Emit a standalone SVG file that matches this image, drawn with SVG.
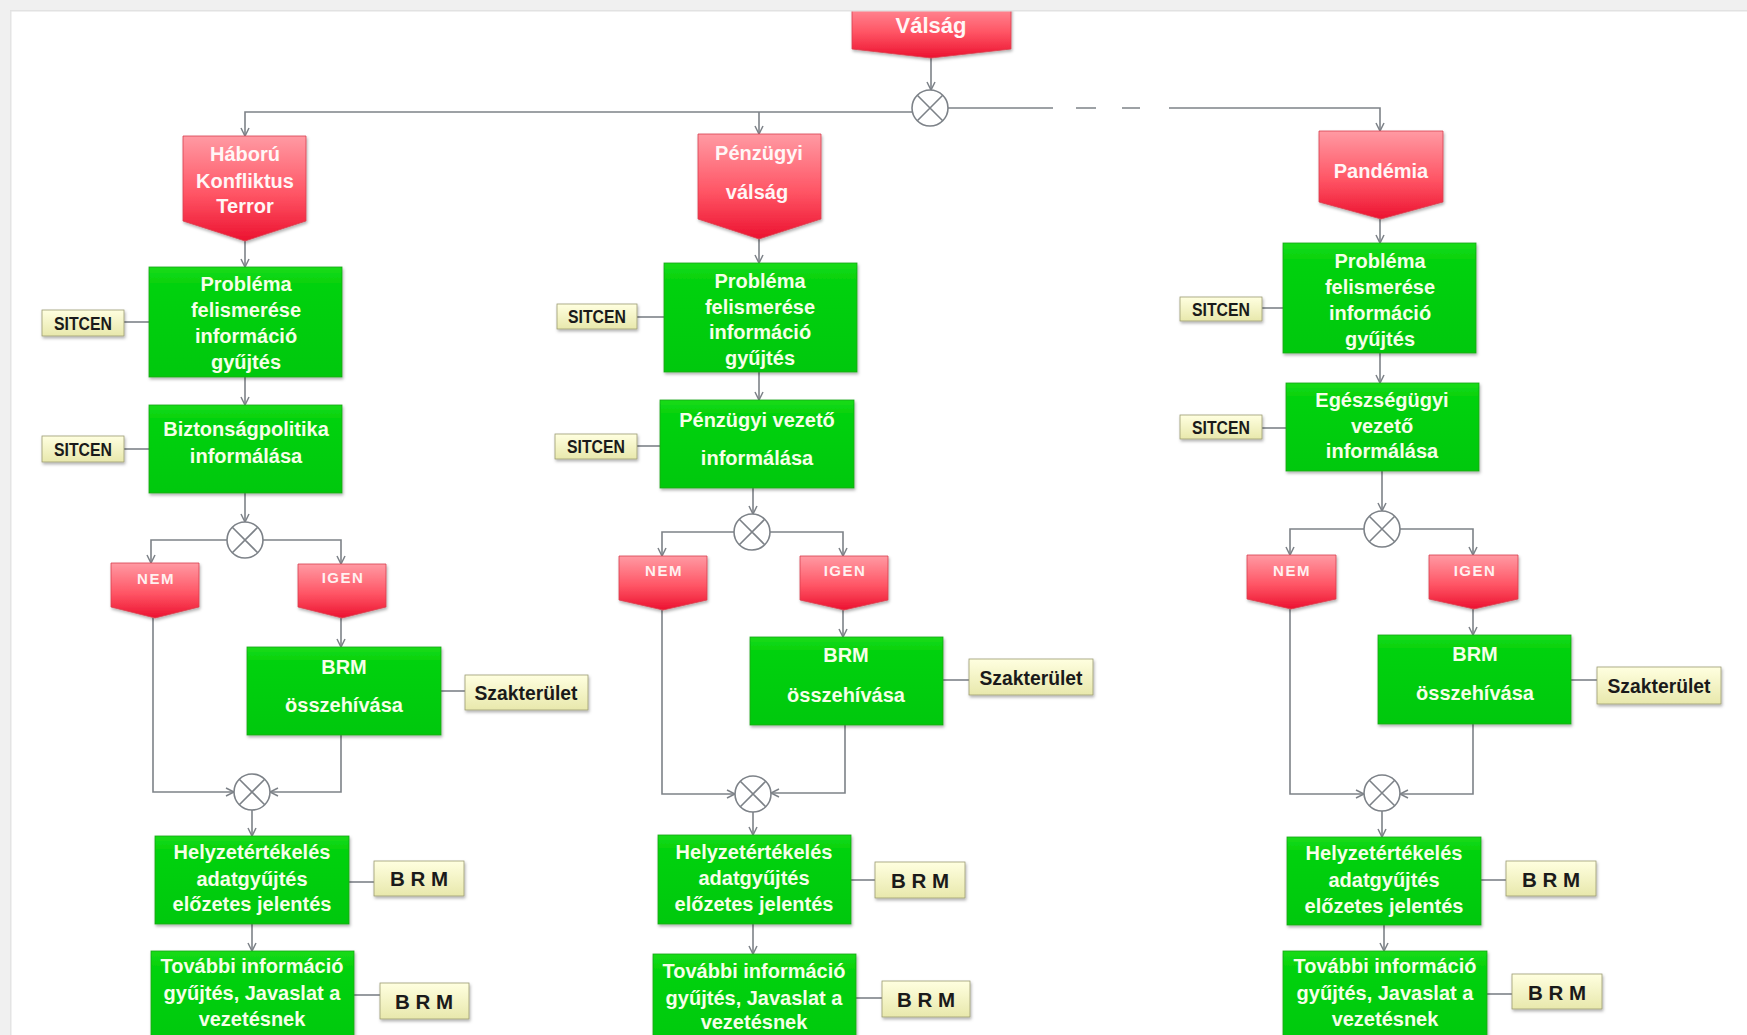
<svg xmlns="http://www.w3.org/2000/svg" width="1747" height="1035" viewBox="0 0 1747 1035">
<style>
.red{fill:url(#gRed);stroke:#d8404e;stroke-width:0.8;filter:url(#sh)}
.grn{fill:url(#gGrn);stroke:#12a512;stroke-width:0.8;filter:url(#sh)}
.lbl{fill:url(#gYel);stroke:#9c9c72;stroke-width:0.8;filter:url(#sh)}
.con{fill:none;stroke:#7d8288;stroke-width:1.6}
.arr{fill:none;stroke:#7d8288;stroke-width:1.6;marker-end:url(#ah)}
.gate{fill:#fff;stroke:#7d8288;stroke-width:1.6}
.tw{font-family:"Liberation Sans",Arial,sans-serif;font-weight:bold;font-size:20px;fill:#f6ffe8;text-anchor:middle}
.tr{font-family:"Liberation Sans",Arial,sans-serif;font-weight:bold;font-size:20px;fill:#fff6f6;text-anchor:middle}
.tyn{font-family:"Liberation Sans",Arial,sans-serif;font-weight:bold;font-size:15px;fill:#fff0f0;text-anchor:middle;letter-spacing:1.5px}
.ts{font-family:"Liberation Sans",Arial,sans-serif;font-weight:bold;font-size:17.5px;fill:#1a1a1a;text-anchor:middle}
.tk{font-family:"Liberation Sans",Arial,sans-serif;font-weight:bold;font-size:20.5px;fill:#1a1a1a;text-anchor:middle}
.tb{font-family:"Liberation Sans",Arial,sans-serif;font-weight:bold;font-size:20.5px;fill:#1a1a1a;text-anchor:middle}
</style>
<defs>
<linearGradient id="gRed" x1="0" y1="0" x2="0" y2="1">
<stop offset="0" stop-color="#ff9aa3"/><stop offset="0.55" stop-color="#ff5565"/><stop offset="1" stop-color="#ec1230"/>
</linearGradient>
<linearGradient id="gGrn" x1="0" y1="0" x2="0" y2="1">
<stop offset="0" stop-color="#18dc18"/><stop offset="0.15" stop-color="#06d20e"/><stop offset="1" stop-color="#00c808"/>
</linearGradient>
<linearGradient id="gYel" x1="0" y1="0" x2="0" y2="1">
<stop offset="0" stop-color="#ffffe0"/><stop offset="1" stop-color="#e8e8ac"/>
</linearGradient>
<filter id="sh" x="-10%" y="-10%" width="130%" height="140%">
<feDropShadow dx="1" dy="2" stdDeviation="1.5" flood-color="#000" flood-opacity="0.3"/>
</filter>
<marker id="ah" markerWidth="12" markerHeight="12" refX="9" refY="5" orient="auto" markerUnits="userSpaceOnUse">
<path d="M1,1 L9,5 L1,9" fill="none" stroke="#7d8288" stroke-width="1.5"/>
</marker>
</defs>
<rect x="0" y="0" width="1747" height="1035" fill="#fff"/>

<g id="connectors">
<path class="arr" d="M931,58 V90"/>
<path class="arr" d="M912,112 H245 V136"/>
<path class="arr" d="M759,112 V134"/>
<path class="con" d="M948,108 H1053 M1076,108 H1096 M1122,108 H1140"/>
<path class="arr" d="M1169,108 H1380 V131"/>
<path class="arr" d="M245,241 V267"/>
<path class="con" d="M124,322 H149"/>
<path class="arr" d="M245,377 V405"/>
<path class="con" d="M124,449 H149"/>
<path class="arr" d="M245,493 V522"/>
<path class="arr" d="M227,540 H151 V563"/>
<path class="arr" d="M263,540 H341 V564"/>
<path class="arr" d="M341,618 V647"/>
<path class="con" d="M441,691 H465"/>
<path class="arr" d="M153,618 V792 H234"/>
<path class="arr" d="M341,735 V792 H270"/>
<path class="arr" d="M252,810 V836"/>
<path class="con" d="M349,882 H374"/>
<path class="arr" d="M252,924 V951"/>
<path class="con" d="M354,995 H380"/>
<path class="arr" d="M759,239 V263"/>
<path class="con" d="M637,317 H664"/>
<path class="arr" d="M759,372 V400"/>
<path class="con" d="M637,446 H660"/>
<path class="arr" d="M753,488 V514"/>
<path class="arr" d="M734,532 H662 V556"/>
<path class="arr" d="M770,532 H843 V556"/>
<path class="arr" d="M843,610 V637"/>
<path class="con" d="M943,680 H969"/>
<path class="arr" d="M662,610 V794 H735"/>
<path class="arr" d="M845,725 V793 H771"/>
<path class="arr" d="M753,812 V835"/>
<path class="con" d="M851,880 H875"/>
<path class="arr" d="M753,924 V954"/>
<path class="con" d="M856,998 H882"/>
<path class="arr" d="M1380,219 V243"/>
<path class="con" d="M1262,308 H1283"/>
<path class="arr" d="M1380,353 V383"/>
<path class="con" d="M1262,428 H1286"/>
<path class="arr" d="M1382,471 V511"/>
<path class="arr" d="M1364,529 H1290 V555"/>
<path class="arr" d="M1400,529 H1473 V555"/>
<path class="arr" d="M1473,609 V635"/>
<path class="con" d="M1571,680 H1597"/>
<path class="arr" d="M1290,609 V794 H1364"/>
<path class="arr" d="M1473,724 V794 H1400"/>
<path class="arr" d="M1382,811 V837"/>
<path class="con" d="M1481,880 H1506"/>
<path class="arr" d="M1384,925 V951"/>
<path class="con" d="M1487,994 H1512"/>
</g>

<g id="gates">
<g id="gate-top"><circle class="gate" cx="930" cy="108" r="18"/><path class="con" d="M917.3,95.3 L942.7,120.7 M942.7,95.3 L917.3,120.7"/></g>
<g id="gate-c1a"><circle class="gate" cx="245" cy="540" r="18"/><path class="con" d="M232.3,527.3 L257.7,552.7 M257.7,527.3 L232.3,552.7"/></g>
<g id="gate-c1b"><circle class="gate" cx="252" cy="792" r="18"/><path class="con" d="M239.3,779.3 L264.7,804.7 M264.7,779.3 L239.3,804.7"/></g>
<g id="gate-c2a"><circle class="gate" cx="752" cy="532" r="18"/><path class="con" d="M739.3,519.3 L764.7,544.7 M764.7,519.3 L739.3,544.7"/></g>
<g id="gate-c2b"><circle class="gate" cx="753" cy="794" r="18"/><path class="con" d="M740.3,781.3 L765.7,806.7 M765.7,781.3 L740.3,806.7"/></g>
<g id="gate-c3a"><circle class="gate" cx="1382" cy="529" r="18"/><path class="con" d="M1369.3,516.3 L1394.7,541.7 M1394.7,516.3 L1369.3,541.7"/></g>
<g id="gate-c3b"><circle class="gate" cx="1382" cy="793" r="18"/><path class="con" d="M1369.3,780.3 L1394.7,805.7 M1394.7,780.3 L1369.3,805.7"/></g>
</g>

<g id="valsag"><path class="red" d="M852,0 H1011 V49 L931,58 L852,49 Z"/><text class="tr" x="931" y="33" style="font-size:22px">Válság</text></g>

<g id="haboru"><path class="red" d="M183,136 H306 V221 L245,241 L183,221 Z"/>
<text class="tr"><tspan x="245" y="161">Háború</tspan><tspan x="245" y="188">Konfliktus</tspan><tspan x="245" y="213">Terror</tspan></text></g>
<g id="c1-problema"><rect class="grn" x="149" y="267" width="193" height="110"/>
<text class="tw"><tspan x="246" y="291">Probléma</tspan><tspan x="246" y="317">felismerése</tspan><tspan x="246" y="343">információ</tspan><tspan x="246" y="369">gyűjtés</tspan></text></g>
<g id="c1-sitcen1"><rect class="lbl" x="42" y="310" width="82" height="26"/><text class="ts" x="83" y="330" textLength="58" lengthAdjust="spacingAndGlyphs">SITCEN</text></g>
<g id="c1-bizt"><rect class="grn" x="149" y="405" width="193" height="88"/>
<text class="tw"><tspan x="246" y="436">Biztonságpolitika</tspan><tspan x="246" y="463">informálása</tspan></text></g>
<g id="c1-sitcen2"><rect class="lbl" x="42" y="436" width="82" height="26"/><text class="ts" x="83" y="456" textLength="58" lengthAdjust="spacingAndGlyphs">SITCEN</text></g>
<g id="c1-nem"><path class="red" d="M111,563 H199 V607 L155,618 L111,607 Z"/><text class="tyn" x="156" y="584">NEM</text></g>
<g id="c1-igen"><path class="red" d="M298,564 H386 V607 L342,618 L298,607 Z"/><text class="tyn" x="343" y="583">IGEN</text></g>
<g id="c1-brm"><rect class="grn" x="247" y="647" width="194" height="88"/>
<text class="tw"><tspan x="344" y="674">BRM</tspan><tspan x="344" y="712">összehívása</tspan></text></g>
<g id="c1-szak"><rect class="lbl" x="465" y="675" width="123" height="35"/><text class="tk" x="526" y="700" textLength="103" lengthAdjust="spacingAndGlyphs">Szakterület</text></g>
<g id="c1-helyzet"><rect class="grn" x="155" y="836" width="194" height="88"/>
<text class="tw"><tspan x="252" y="859">Helyzetértékelés</tspan><tspan x="252" y="886">adatgyűjtés</tspan><tspan x="252" y="911">előzetes jelentés</tspan></text></g>
<g id="c1-brm1"><rect class="lbl" x="374" y="861" width="90" height="35"/><text class="tb" x="419" y="886">B R M</text></g>
<g id="c1-tovabbi"><rect class="grn" x="151" y="951" width="203" height="100"/>
<text class="tw"><tspan x="252" y="973">További információ</tspan><tspan x="252" y="1000">gyűjtés, Javaslat a</tspan><tspan x="252" y="1026">vezetésnek</tspan></text></g>
<g id="c1-brm2"><rect class="lbl" x="380" y="983" width="89" height="36"/><text class="tb" x="424" y="1009">B R M</text></g>

<g id="penzugyi"><path class="red" d="M698,134 H821 V219 L759,239 L698,219 Z"/>
<text class="tr"><tspan x="759" y="160">Pénzügyi</tspan><tspan x="757" y="199">válság</tspan></text></g>
<g id="c2-problema"><rect class="grn" x="664" y="263" width="193" height="109"/>
<text class="tw"><tspan x="760" y="288">Probléma</tspan><tspan x="760" y="314">felismerése</tspan><tspan x="760" y="339">információ</tspan><tspan x="760" y="365">gyűjtés</tspan></text></g>
<g id="c2-sitcen1"><rect class="lbl" x="557" y="304" width="80" height="25"/><text class="ts" x="597" y="323" textLength="58" lengthAdjust="spacingAndGlyphs">SITCEN</text></g>
<g id="c2-vezeto"><rect class="grn" x="660" y="400" width="194" height="88"/>
<text class="tw"><tspan x="757" y="427">Pénzügyi vezető</tspan><tspan x="757" y="465">informálása</tspan></text></g>
<g id="c2-sitcen2"><rect class="lbl" x="555" y="434" width="82" height="25"/><text class="ts" x="596" y="453" textLength="58" lengthAdjust="spacingAndGlyphs">SITCEN</text></g>
<g id="c2-nem"><path class="red" d="M619,556 H707 V600 L663,610 L619,600 Z"/><text class="tyn" x="664" y="576">NEM</text></g>
<g id="c2-igen"><path class="red" d="M800,556 H888 V600 L844,610 L800,600 Z"/><text class="tyn" x="845" y="576">IGEN</text></g>
<g id="c2-brm"><rect class="grn" x="750" y="637" width="193" height="88"/>
<text class="tw"><tspan x="846" y="662">BRM</tspan><tspan x="846" y="702">összehívása</tspan></text></g>
<g id="c2-szak"><rect class="lbl" x="969" y="659" width="124" height="36"/><text class="tk" x="1031" y="685" textLength="103" lengthAdjust="spacingAndGlyphs">Szakterület</text></g>
<g id="c2-helyzet"><rect class="grn" x="658" y="835" width="193" height="89"/>
<text class="tw"><tspan x="754" y="859">Helyzetértékelés</tspan><tspan x="754" y="885">adatgyűjtés</tspan><tspan x="754" y="911">előzetes jelentés</tspan></text></g>
<g id="c2-brm1"><rect class="lbl" x="875" y="862" width="90" height="36"/><text class="tb" x="920" y="888">B R M</text></g>
<g id="c2-tovabbi"><rect class="grn" x="653" y="954" width="203" height="100"/>
<text class="tw"><tspan x="754" y="978">További információ</tspan><tspan x="754" y="1005">gyűjtés, Javaslat a</tspan><tspan x="754" y="1029">vezetésnek</tspan></text></g>
<g id="c2-brm2"><rect class="lbl" x="882" y="981" width="88" height="36"/><text class="tb" x="926" y="1007">B R M</text></g>

<g id="pandemia"><path class="red" d="M1319,131 H1443 V202 L1381,219 L1319,202 Z"/>
<text class="tr" x="1381" y="178">Pandémia</text></g>
<g id="c3-problema"><rect class="grn" x="1283" y="243" width="193" height="110"/>
<text class="tw"><tspan x="1380" y="268">Probléma</tspan><tspan x="1380" y="294">felismerése</tspan><tspan x="1380" y="320">információ</tspan><tspan x="1380" y="346">gyűjtés</tspan></text></g>
<g id="c3-sitcen1"><rect class="lbl" x="1180" y="297" width="82" height="24"/><text class="ts" x="1221" y="316" textLength="58" lengthAdjust="spacingAndGlyphs">SITCEN</text></g>
<g id="c3-egeszseg"><rect class="grn" x="1286" y="383" width="193" height="88"/>
<text class="tw"><tspan x="1382" y="407">Egészségügyi</tspan><tspan x="1382" y="433">vezető</tspan><tspan x="1382" y="458">informálása</tspan></text></g>
<g id="c3-sitcen2"><rect class="lbl" x="1180" y="415" width="82" height="24"/><text class="ts" x="1221" y="434" textLength="58" lengthAdjust="spacingAndGlyphs">SITCEN</text></g>
<g id="c3-nem"><path class="red" d="M1247,555 H1336 V599 L1291,609 L1247,599 Z"/><text class="tyn" x="1292" y="576">NEM</text></g>
<g id="c3-igen"><path class="red" d="M1429,555 H1518 V599 L1474,609 L1429,599 Z"/><text class="tyn" x="1475" y="576">IGEN</text></g>
<g id="c3-brm"><rect class="grn" x="1378" y="635" width="193" height="89"/>
<text class="tw"><tspan x="1475" y="661">BRM</tspan><tspan x="1475" y="700">összehívása</tspan></text></g>
<g id="c3-szak"><rect class="lbl" x="1597" y="667" width="124" height="37"/><text class="tk" x="1659" y="693" textLength="103" lengthAdjust="spacingAndGlyphs">Szakterület</text></g>
<g id="c3-helyzet"><rect class="grn" x="1287" y="837" width="194" height="88"/>
<text class="tw"><tspan x="1384" y="860">Helyzetértékelés</tspan><tspan x="1384" y="887">adatgyűjtés</tspan><tspan x="1384" y="913">előzetes jelentés</tspan></text></g>
<g id="c3-brm1"><rect class="lbl" x="1506" y="861" width="90" height="35"/><text class="tb" x="1551" y="887">B R M</text></g>
<g id="c3-tovabbi"><rect class="grn" x="1283" y="951" width="204" height="100"/>
<text class="tw"><tspan x="1385" y="973">További információ</tspan><tspan x="1385" y="1000">gyűjtés, Javaslat a</tspan><tspan x="1385" y="1026">vezetésnek</tspan></text></g>
<g id="c3-brm2"><rect class="lbl" x="1512" y="974" width="90" height="35"/><text class="tb" x="1557" y="1000">B R M</text></g>

<rect x="0" y="0" width="1747" height="10" fill="#f0f0f0"/>
<rect x="0" y="10" width="1747" height="1.5" fill="#e2e2e2"/>
<rect x="0" y="0" width="10" height="1035" fill="#f0f0f0"/>
<rect x="10" y="11" width="1.5" height="1024" fill="#e4e4e4"/>
</svg>
